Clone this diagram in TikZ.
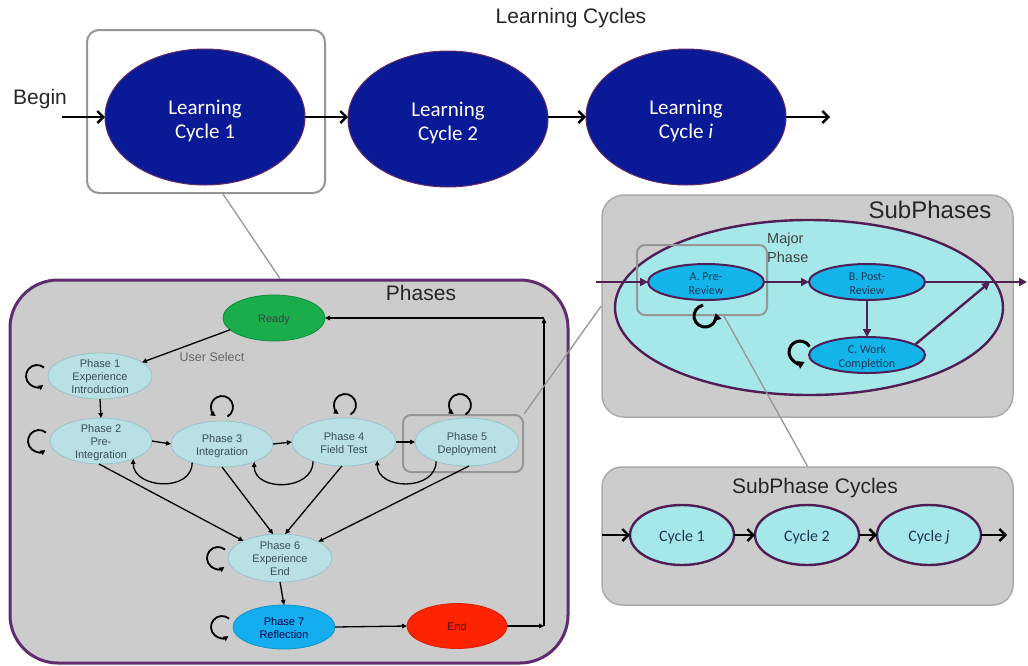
\documentclass[tikz,border=0pt]{standalone}
\usepackage{fontspec}
\setmainfont{Liberation Sans}
\newfontfamily\calib{Carlito}
\usetikzlibrary{shapes.geometric,arrows.meta,calc}
\definecolor{lcblue}{RGB}{10,26,150}
\definecolor{lcborder}{RGB}{100,40,100}
\definecolor{boxgray}{RGB}{204,204,204}
\definecolor{phpurple}{RGB}{94,45,110}
\definecolor{zgray}{RGB}{150,150,150}
\definecolor{phcyan}{RGB}{185,224,228}
\definecolor{phcyanb}{RGB}{150,195,200}
\definecolor{rgreen}{RGB}{26,173,76}
\definecolor{pblue}{RGB}{20,174,238}
\definecolor{endred}{RGB}{255,36,0}
\definecolor{majcyan}{RGB}{166,232,234}
\definecolor{subblue}{RGB}{18,180,234}
\definecolor{spurple}{RGB}{80,30,85}
\definecolor{phtext}{RGB}{55,80,88}
\definecolor{subtext}{RGB}{30,55,85}
\newcommand\ctext[1]{\raisebox{-.45em}[0pt][0pt]{\makebox[0pt]{\begin{tabular}{@{}c@{}}#1\end{tabular}}}}
\begin{document}
\begin{tikzpicture}[x=1pt,y=-1pt,
  ell/.style={ellipse, inner sep=0pt, outer sep=0pt},
  lc/.style={ell, fill=lcblue, draw=lcborder, line width=1pt, text=white, font=\calib\fontsize{21}{24}\selectfont, minimum width=200pt, minimum height=136pt},
  zbox/.style={rectangle, draw=zgray, line width=2pt, rounded corners=12pt, inner sep=0pt},
  zline/.style={draw=zgray, line width=1.3pt},
  bigarr/.style={line width=2.4pt, -{Straight Barb[length=6pt,width=12pt,line width=2.4pt]}},
  ph/.style={ell, fill=phcyan, draw=phcyanb, line width=0.8pt, text=phtext, font=\fontsize{11}{13}\selectfont},
  parr/.style={line width=1.3pt, -{Triangle[length=5pt,width=4.5pt]}},
  ploop/.style={line width=1.8pt, -{Triangle[length=5pt,width=5pt]}},
  sub/.style={ell, fill=subblue, draw=spurple, line width=2pt, text=subtext, font=\calib\fontsize{12}{14}\selectfont, minimum width=116pt, minimum height=36pt},
  sarr/.style={draw=spurple, line width=2.4pt, -{Triangle[length=8pt,width=8pt]}},
  sloop/.style={line width=3pt, -{Triangle[length=7pt,width=8pt]}},
  cyc/.style={ell, fill=majcyan, draw=spurple, line width=2.4pt, text=subtext, font=\calib\fontsize{16}{18}\selectfont, minimum width=104pt, minimum height=60pt},
  ttl/.style={font=\fontsize{21}{25}\selectfont, text=black!85, inner sep=0pt}
]
\useasboundingbox (0,0) rectangle (1028,665);

% ---------- top row ----------
\node[ttl] (title) at (571,18) {Learning Cycles};
\node[ttl] (begin) at (40,99) {Begin};
\node[lc] (lc1) at (205,117) {\ctext{Learning\\Cycle 1}};
\node[lc] (lc2) at (448,119) {\ctext{Learning\\Cycle 2}};
\node[lc] (lci) at (686,117) {\ctext{Learning\\Cycle \textit{i}}};
\node[zbox, minimum width=238pt, minimum height=163pt] (z1) at (206,111.5) {};
\coordinate (bgin) at (62,117);
\coordinate (lcout) at (830,117);
\draw[bigarr] (bgin) -- (lc1.west);
\draw[bigarr] (lc1.east) -- (lc2.west |- lc1.east);
\draw[bigarr] (lc2.east |- lci.west) -- (lci.west);
\draw[bigarr] (lci.east) -- (lcout);

% ---------- Phases ----------
\node[rectangle, draw=phpurple, line width=3pt, fill=boxgray, rounded corners=48pt, minimum width=558pt, minimum height=383pt] (phbox) at (289,471.5) {};
\node[ttl] (phtitle) at (421,293) {Phases};

\node[ph, fill=rgreen, draw=rgreen!80!black, text=black!75, minimum width=102pt, minimum height=46pt] (ready) at (274,318) {\ctext{Ready}};
\node[ph, minimum width=104pt, minimum height=46pt] (p1) at (100,376) {\ctext{Phase 1\\Experience\\Introduction}};
\node[ph, minimum width=102pt, minimum height=46pt] (p2) at (101,441) {\ctext{Phase 2\\Pre-\\Integration}};
\node[ph, minimum width=102pt, minimum height=46pt] (p3) at (222,444) {\ctext{Phase 3\\Integration}};
\node[ph, minimum width=104pt, minimum height=48pt] (p4) at (344,442) {\ctext{Phase 4\\Field Test}};
\node[ph, minimum width=104pt, minimum height=48pt] (p5) at (467,442) {\ctext{Phase 5\\Deployment}};
\node[ph, minimum width=104pt, minimum height=48pt] (p6) at (280,558) {\ctext{Phase 6\\Experience\\End}};
\node[ph, fill=pblue, draw=pblue!85!black, text=black!70!blue, minimum width=102pt, minimum height=44pt] (p7) at (284,627) {\ctext{Phase 7\\Reflection}};
\node[ph, fill=endred, draw=endred!85!black, text=black!70!red, minimum width=100pt, minimum height=45pt] (endn) at (457,626) {\ctext{End}};
\node[zbox, rounded corners=8pt, line width=2pt, minimum width=120pt, minimum height=57pt] (z5) at (463,443.5) {};

\draw[parr] (ready.195) -- (p1.18);
\node[font=\fontsize{12.5}{14}\selectfont, text=black!60, inner sep=0pt] (usel) at (212,357) {User Select};
\draw[parr] (p1.south) -- (p2.north);
\draw[parr] (p2.east) -- (p3.west);
\draw[parr] (p3.east) -- (p4.west);
\draw[parr] (p4.east) -- (p5.west);
\draw[parr] (p3.212) .. controls +(0,30) and +(0,30) .. (p2.331);
\draw[parr] (p4.212) .. controls +(0,30) and +(0,30) .. (p3.331);
\draw[parr] (p5.212) .. controls +(0,30) and +(0,30) .. (p4.331);
\draw[parr] (p2.265) -- (p6.155);
\draw[parr] (p3.south) -- (p6.106);
\draw[parr] (p4.265) -- (p6.78);
\draw[parr] (p5.275) -- (p6.23);
\draw[parr] (p6.south) -- (p7.north);
\draw[parr] (p7.east) -- (endn.west);
\coordinate (c1) at (544,626);
\coordinate (c2) at (544,318);
\draw[parr] (endn.east) -- (c1);
\draw[parr] (c1) -- (c2);
\draw[parr] (c2) -- (ready.east);

% self loops
\draw[ploop] ($(p1.west)+(-11,0)$) ++(-50:11) arc[start angle=-50,end angle=-305,radius=11];
\draw[ploop] ($(p2.west)+(-11,0)$) ++(-50:11) arc[start angle=-50,end angle=-305,radius=11];
\draw[ploop] ($(p6.west)+(-10,0)$) ++(-50:11) arc[start angle=-50,end angle=-305,radius=11];
\draw[ploop] ($(p7.west)+(-11,0)$) ++(-50:11) arc[start angle=-50,end angle=-305,radius=11];
\draw[ploop] ($(p3.north)+(0,-14)$) ++(60:11) arc[start angle=60,end angle=-235,radius=11];
\draw[ploop] ($(p4.north)+(1,-13)$) ++(60:11) arc[start angle=60,end angle=-235,radius=11];
\draw[ploop] ($(p5.north)+(-7,-13)$) ++(60:11) arc[start angle=60,end angle=-235,radius=11];

% ---------- SubPhases ----------
\node[rectangle, draw=zgray!80, line width=1.5pt, fill=boxgray, rounded corners=22pt, minimum width=411pt, minimum height=222pt] (subbox) at (807.5,306) {};
\node[ttl, font=\fontsize{24}{28}\selectfont] (subtitle) at (930,210) {SubPhases};
\node[ell, fill=majcyan, draw=spurple, line width=2.4pt, minimum width=388pt, minimum height=175pt] (maj) at (809,307.5) {};
\node[font=\fontsize{14.5}{19}\selectfont, text=black!75, align=left, anchor=west, inner sep=0pt] (majt) at (767,247.5) {Major\\Phase};
\node[sub] (pa) at (706,282) {\ctext{A. Pre-\\Review}};
\node[sub] (pb) at (867,282) {\ctext{B. Post-\\Review}};
\node[sub] (pc) at (867,355) {\ctext{C. Work\\Completion}};
\node[zbox, rounded corners=8pt, minimum width=130pt, minimum height=70pt] (za) at (702,280) {};
\coordinate (ain) at (596,282);
\coordinate (jn) at (990,282);
\coordinate (sout) at (1027,282);
\draw[sarr] (ain) -- (pa.west);
\draw[sarr] (pa.east) -- (pb.west);
\draw[sarr] (pb.south) -- (pc.north);
\draw[sarr] (pb.east) -- (sout);
\draw[sarr] (pc.12) -- (jn);
\draw[sloop] ($(pa.south)+(-1,16)$) ++(-100:11) arc[start angle=-100,end angle=-375,radius=11];
\draw[sloop] ($(pc.west)+(-9,-3)$) ++(-30:11) arc[start angle=-30,end angle=-295,radius=11];

% ---------- SubPhase Cycles ----------
\node[rectangle, draw=zgray!80, line width=1.5pt, fill=boxgray, rounded corners=20pt, minimum width=411pt, minimum height=138pt] (cycbox) at (807.5,536) {};
\node[ttl] (cyctitle) at (815,488) {SubPhase Cycles};
\node[cyc] (cy1) at (682,535) {\ctext{Cycle 1}};
\node[cyc] (cy2) at (807,535) {\ctext{Cycle 2}};
\node[cyc] (cyj) at (929,535) {\ctext{Cycle \textit{j}}};
\coordinate (cin) at (602,535);
\coordinate (cout) at (1007,535);
\draw[bigarr] (cin) -- (cy1.west);
\draw[bigarr] (cy1.east) -- (cy2.west);
\draw[bigarr] (cy2.east) -- (cyj.west);
\draw[bigarr] (cyj.east) -- (cout);

% ---------- zoom connectors ----------
\draw[zline] ([xshift=17pt]z1.south) -- ([xshift=-9pt]phbox.north);
\draw[zline] (z5.north east) -- (subbox.west);
\draw[zline] ([xshift=22pt]za.south) -- (cycbox.north);
\end{tikzpicture}
\end{document}
